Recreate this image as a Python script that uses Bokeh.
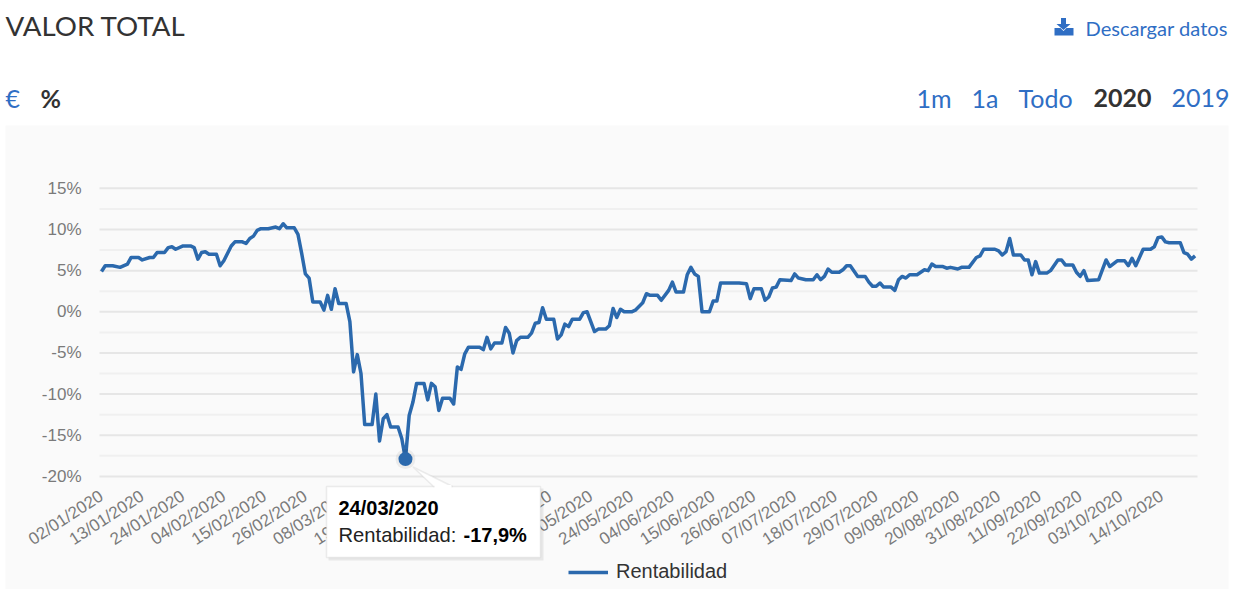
import math
from bokeh.plotting import figure
from bokeh.embed import file_html
from bokeh.resources import INLINE
from bokeh.models import (FixedTicker, Label, BoxAnnotation, PolyAnnotation, Legend, LegendItem)

# Day number counted from 02/01/2020 and the return in % at each turning point of the line
days = [0,1,3,5,7,8,10,11,13,14,15,17,18,19,20,22,24,25,26,27,28,29,31,32,33,35,36,38,39,40,41,42,43,45,47,48,49,50,52,53,54,55,56,57,59,60,61,62,63,64,66,67,68,69,70,71,73,74,75,76,77,78,80,81,82,83,84,85,87,88,89,90,91,92,94,95,96,97,98,99,102,103,104,105,106,108,109,110,111,112,113,115,116,117,118,119,120,122,123,124,125,126,127,129,130,131,133,134,136,137,138,139,140,141,143,144,146,147,148,150,151,153,154,155,157,158,159,160,161,162,164,165,166,167,172,174,175,176,178,179,180,181,182,183,186,187,188,190,192,193,194,195,196,197,199,200,201,202,204,206,207,208,209,210,211,213,214,215,216,217,218,220,222,223,224,225,227,228,229,231,232,234,236,237,238,241,242,243,244,245,246,248,249,250,251,252,253,255,256,258,259,260,262,263,264,265,266,269,271,272,274,276,277,278,279,281,283,284,285,286,287,288,291,292,293,294,295]
rentabilidad = [4.9,5.6,5.6,5.4,5.8,6.6,6.6,6.3,6.6,6.6,7.2,7.2,7.8,7.9,7.6,8.0,8.0,7.8,6.4,7.2,7.3,7.0,7.0,5.6,6.2,8.0,8.5,8.5,8.3,8.9,9.2,9.9,10.1,10.1,10.3,10.1,10.7,10.2,10.2,9.4,7.1,4.6,4.1,1.2,1.2,0.2,2.0,0.3,2.8,1.0,1.0,-1.2,-7.3,-5.2,-7.5,-13.7,-13.7,-10.0,-15.7,-13.0,-12.5,-14.0,-14.0,-15.4,-17.9,-12.6,-11.0,-8.7,-8.7,-10.7,-8.7,-9.1,-12.0,-10.5,-10.5,-11.2,-6.7,-7.0,-5.1,-4.3,-4.3,-4.6,-3.1,-4.5,-3.8,-3.8,-1.9,-2.6,-5.0,-3.5,-3.1,-3.1,-2.6,-1.4,-1.3,0.5,-0.9,-0.9,-3.3,-2.8,-1.5,-1.8,-0.9,-0.9,-0.1,0.0,-2.4,-2.1,-2.1,-1.7,0.4,-0.7,0.3,0.0,0.0,0.2,1.1,2.2,2.0,2.0,1.4,2.6,3.6,2.4,2.4,4.5,5.4,4.6,4.3,0.0,0.0,1.3,1.3,3.5,3.5,3.4,1.6,2.8,2.8,1.4,1.8,2.9,3.0,3.9,3.8,4.6,4.1,3.9,3.9,4.5,3.9,4.3,5.2,4.8,4.8,5.1,5.6,5.6,4.3,4.3,3.6,3.1,3.1,3.5,3.0,3.0,2.6,3.9,4.3,4.1,4.5,4.5,5.1,5.0,5.8,5.5,5.5,5.3,5.4,5.2,5.4,5.4,6.6,6.8,7.6,7.6,7.4,6.9,7.3,8.9,6.9,6.9,6.3,6.3,4.5,6.1,4.7,4.7,5.0,6.3,6.3,5.7,5.7,4.8,4.3,5.0,3.8,3.9,6.3,5.5,6.2,6.2,5.6,6.5,5.6,7.6,7.6,7.9,9.0,9.1,8.5,8.4,8.4,7.2,7.0,6.4,6.8]

x_tick_labels = ["02/01/2020","13/01/2020","24/01/2020","04/02/2020","15/02/2020","26/02/2020","08/03/2020","19/03/2020","30/03/2020","10/04/2020","21/04/2020","02/05/2020","13/05/2020","24/05/2020","04/06/2020","15/06/2020","26/06/2020","07/07/2020","18/07/2020","29/07/2020","09/08/2020","20/08/2020","31/08/2020","11/09/2020","22/09/2020","03/10/2020","14/10/2020"]
x_ticks = [i * 11 for i in range(len(x_tick_labels))]
y_ticks = [15, 10, 5, 0, -5, -10, -15, -20]
y_minor = [12.5, 7.5, 2.5, -2.5, -7.5, -12.5, -17.5]
hover_day = 82
hover_value = -17.9

BLUE = "#2b69ad"
LINK = "#2f6ec4"
DARK = "#333333"
TICK = "#7a7a7a"
ARIAL = "Liberation Sans"

# the frame fills the whole page, so that the titles and tooltip may share it
X_PER_PX = 1 / 3.707
Y_PER_PX = 1 / 8.23
x_of = lambda px: (px - 101.0) * X_PER_PX
y_of = lambda py: (311.3 - py) * Y_PER_PX

p = figure(width=1237, height=589, output_backend="svg", toolbar_location=None,
           x_range=(x_of(0), x_of(1237)), y_range=(y_of(589), y_of(0)),
           min_border_left=0, min_border_right=0, min_border_top=0, min_border_bottom=0)
p.outline_line_color = None
p.background_fill_color = "white"
p.border_fill_color = "white"
p.xgrid.visible = False
p.ygrid.visible = False

p.add_layout(BoxAnnotation(left=5, right=1228, top=125, bottom=589, left_units="canvas", right_units="canvas",
                           top_units="canvas", bottom_units="canvas", fill_color="#fafafa", fill_alpha=1,
                           line_color=None, level="underlay"))

# grid lines, bounded to the plot area
grid_x0, grid_x1 = x_of(99), x_of(1197)
p.segment([grid_x0] * len(y_minor), y_minor, [grid_x1] * len(y_minor), y_minor, line_color="#f0f0f0", line_width=2)
p.segment([grid_x0] * len(y_ticks), y_ticks, [grid_x1] * len(y_ticks), y_ticks, line_color="#e6e6e6", line_width=2)

p.yaxis.fixed_location = grid_x0
p.xaxis.fixed_location = y_of(484)
p.yaxis.ticker = FixedTicker(ticks=y_ticks)
p.yaxis.major_label_overrides = {v: f"{v}%" for v in y_ticks}
p.xaxis.ticker = FixedTicker(ticks=x_ticks)
p.xaxis.major_label_overrides = dict(zip(x_ticks, x_tick_labels))
p.xaxis.major_label_orientation = math.radians(33)
for ax in (p.xaxis[0], p.yaxis[0]):
    ax.axis_line_color = None
    ax.major_tick_line_color = None
    ax.minor_tick_line_color = None
    ax.major_label_text_font = ARIAL
    ax.major_label_text_font_size = "17px"
    ax.major_label_text_color = TICK
p.yaxis.major_label_standoff = 12
p.xaxis.major_label_standoff = 4

line = p.line(days, rentabilidad, line_color=BLUE, line_width=3.5, line_join="round")
p.scatter([hover_day], [hover_value], size=20, fill_color="#000000", fill_alpha=0.06, line_color=None)
p.scatter([hover_day], [hover_value], size=14, fill_color=BLUE, line_color=None)

legend = Legend(items=[LegendItem(label="Rentabilidad", renderers=[line])], location=(568, 6),
                orientation="horizontal", border_line_color=None, background_fill_alpha=0,
                label_text_font=ARIAL, label_text_font_size="20px", label_text_color="#333333",
                glyph_width=40, glyph_height=20, label_standoff=8, padding=4, margin=0)
p.add_layout(legend)


def text(x, y, s, size, color, font="Lato", style="normal", align="left"):
    p.add_layout(Label(x=x, y=y, x_units="canvas", y_units="canvas", text=s, text_font=font,
                       text_font_size=size, text_color=color, text_font_style=style, text_align=align,
                       text_baseline="middle", level="overlay"))


def poly(xs, ys, fill, line_color=None, alpha=1.0, width=1.5):
    p.add_layout(PolyAnnotation(xs=xs, ys=ys, xs_units="canvas", ys_units="canvas", fill_color=fill,
                                fill_alpha=alpha, line_color=line_color, line_width=width, level="overlay"))


# header
text(5, 25, "VALOR TOTAL", "27.7px", DARK)
text(1085, 27, "Descargar datos", "20.1px", LINK)
poly([1060.5, 1065.5, 1065.5, 1070, 1063, 1056, 1060.5], [17.5, 17.5, 23.5, 23.5, 29.5, 23.5, 23.5], LINK)
poly([1054, 1060, 1063, 1066, 1073, 1073, 1054], [27.5, 27.5, 30.5, 27.5, 27.5, 35, 35], LINK)
text(5, 97, "€", "25px", LINK)
text(40, 97, "%", "25px", DARK, style="bold")
text(916, 97, "1m", "25px", LINK)
text(971, 97, "1a", "25px", LINK)
text(1018, 97, "Todo", "25px", LINK)
text(1093, 97, "2020", "25px", DARK, style="bold")
text(1171, 97, "2019", "25px", LINK)

# tooltip
p.add_layout(BoxAnnotation(left=328, right=543, top=488, bottom=560, left_units="canvas", right_units="canvas",
                           top_units="canvas", bottom_units="canvas", fill_color="#000000", fill_alpha=0.07,
                           line_color=None, level="overlay"))
p.add_layout(BoxAnnotation(left=326, right=540, top=486, bottom=557, left_units="canvas", right_units="canvas",
                           top_units="canvas", bottom_units="canvas", fill_color="white", fill_alpha=1,
                           line_color="#c4c4c4", line_width=1.5, level="overlay"))
poly([412.5, 433, 452], [466.5, 486, 486], "white", "#c4c4c4")
poly([434, 451, 451, 434], [484.5, 484.5, 488, 488], "white", None, 1.0, 0)
text(338, 507, "24/03/2020", "20px", "#000000", ARIAL, "bold")
text(338, 534, "Rentabilidad:", "20.2px", "#222222", ARIAL)
text(463, 534, "-17,9%", "20px", "#000000", ARIAL, "bold")

html = file_html(p, INLINE)
html = html.replace("<head>", "<head><style>html,body{margin:0;padding:0;overflow:hidden}</style>", 1)
open("out.html", "w").write(html)
